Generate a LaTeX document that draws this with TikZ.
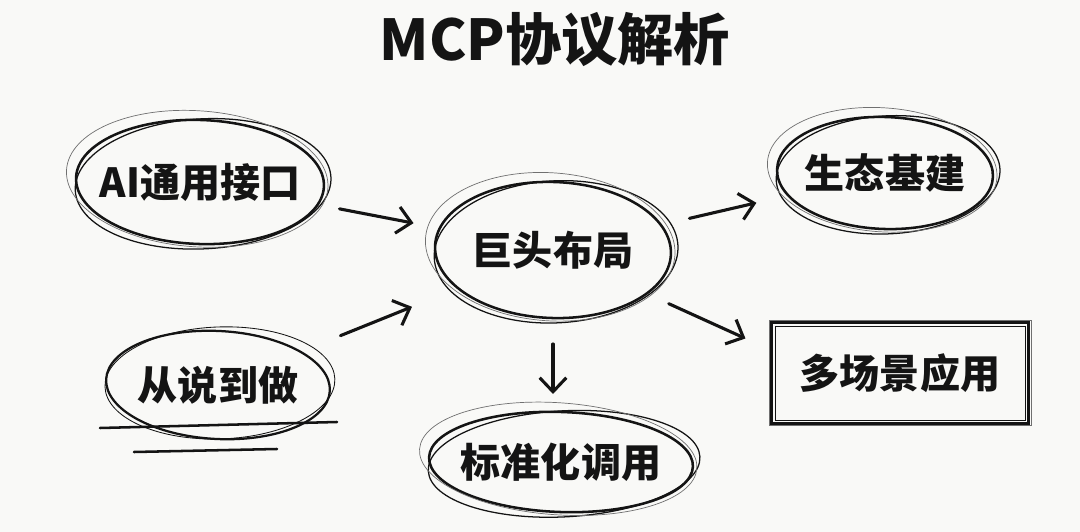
\documentclass[tikz,border=0pt]{standalone}
\usepackage{fontspec}
\newfontfamily\cjk{Noto Sans CJK SC}
\usetikzlibrary{arrows.meta,shapes.geometric,calc}
\definecolor{bg}{HTML}{F9F9F7}
\definecolor{ink}{HTML}{141414}
\definecolor{pencil}{HTML}{707070}
\tikzset{
  lbl/.style={font=\cjk\bfseries\fontsize{28.5}{32}\selectfont, text=ink, inner sep=0pt},
  ttl/.style={font=\cjk\bfseries\fontsize{40}{44}\selectfont, text=ink, inner sep=0pt},
  arr/.style={draw=ink, line width=2.2pt, line cap=round,
    -{Straight Barb[length=10pt,width=19pt,line width=2.2pt]}},
  uline/.style={draw=ink, line width=1.8pt, line cap=round},
}
\newcommand\skel[3]{%
  \draw[ink, line width=1.8pt, rotate around={-2:(#1.center)}] (#1.center) ellipse [x radius=#2, y radius=#3];
  \draw[ink, line width=0.9pt, rotate around={3:(#1.center)}] ($(#1.center)+(3,2)$) ellipse [x radius=#2+4, y radius=#3+3];
  \draw[pencil, line width=0.5pt, rotate around={-4:(#1.center)}] ($(#1.center)+(-3,-3)$) ellipse [x radius=#2+7, y radius=#3+6];
}
\begin{document}
\begin{tikzpicture}[x=0.025cm, y=-0.025cm]
\path[fill=bg, use as bounding box] (0,0) rectangle (1080,532);

\node[ttl] (title) at (555,40) {MCP协议解析};

\node[lbl] (ai)  at (200,182) {AI通用接口};
\node[lbl] (do)  at (218,385) {从说到做};
\node[lbl, shape=ellipse, minimum width=5.9cm, minimum height=3.4cm] (hub) at (553,250) {巨头布局};
\node[lbl] (std) at (561,462) {标准化调用};
\node[lbl] (eco) at (885,173) {生态基建};
\node[lbl, minimum width=6.4cm, minimum height=2.5cm] (app) at (900,373) {多场景应用};

% sketchy ellipses
\skel{ai}{124}{62}
\skel{hub}{118}{68}
\skel{std}{132}{50}
\skel{eco}{108}{56}
\draw[ink, line width=1.6pt, rotate around={-3:(do.center)}] (do.center) ellipse [x radius=112, y radius=54];
\draw[ink, line width=0.6pt, rotate around={2:(do.center)}] ($(do.center)+(2,-2)$) ellipse [x radius=115, y radius=56];

% underlines of 从说到做
\coordinate (u1a) at (100,428);
\coordinate (u1b) at (337,422);
\coordinate (u2a) at (134,452);
\coordinate (u2b) at (277,449);
\draw[uline] (u1a) -- (u1b);
\draw[uline] (u2a) -- (u2b);

% sketchy rectangle
\draw[ink, line width=1.8pt] (app.south west) rectangle (app.north east);
\draw[ink, line width=0.8pt] ($(app.south west)+(4,-3)$) rectangle ($(app.north east)+(-3,4)$);
\draw[pencil, line width=0.5pt] ($(app.south west)+(-2,2)$) rectangle ($(app.north east)+(3,-2)$);

% arrows
\draw[arr, shorten <=3.55cm, shorten >=3.55cm] (ai.center) -- (hub.center);
\draw[arr, shorten <=3.3cm, shorten >=3.8cm] (do.center) -- (hub.center);
\draw[arr, shorten <=2.35cm, shorten >=1.7cm] (hub.center) -- (hub.center |- std.center);
\draw[arr, shorten <=3.5cm, shorten >=3.3cm] (hub.center) -- (eco.center);
\draw[arr, shorten <=0.65cm, shorten >=0.72cm] (hub.-25) -- (app.170);
\end{tikzpicture}
\end{document}
